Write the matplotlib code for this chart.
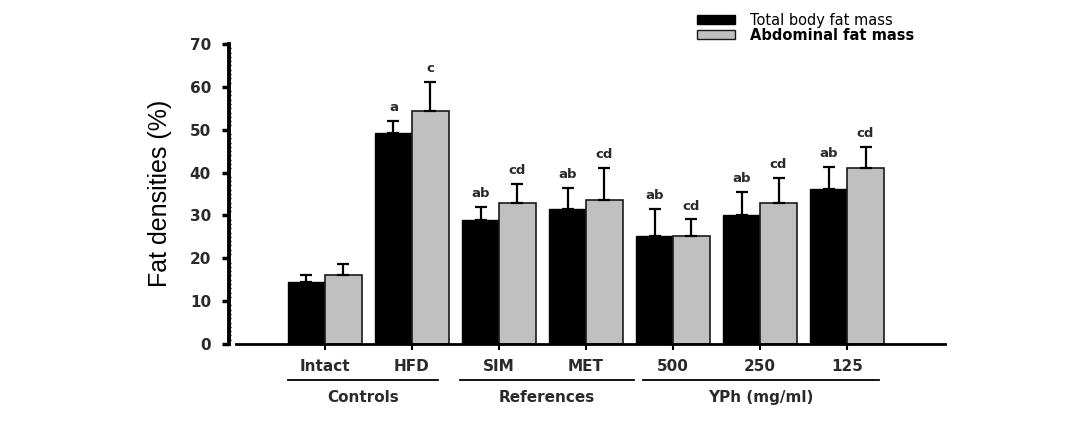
import matplotlib
matplotlib.use("Agg")
import matplotlib.pyplot as plt
from matplotlib.patches import Patch
import numpy as np

# groups and values
cats = ["Intact", "HFD", "SIM", "MET", "500", "250", "125"]
total_fat = [14.5, 49.3, 28.9, 31.5, 25.3, 30.2, 36.2]
total_err = [1.5, 2.8, 3.1, 5.0, 6.3, 5.3, 5.2]
abd_fat = [16.2, 54.4, 33.0, 33.7, 25.3, 33.0, 41.1]
abd_err = [2.5, 6.8, 4.4, 7.4, 3.8, 5.8, 4.9]
total_letters = ["", "a", "ab", "ab", "ab", "ab", "ab"]
abd_letters = ["", "c", "cd", "cd", "cd", "cd", "cd"]
groups = ["Controls", "References", "YPh (mg/ml)"]
group_spans = [(-0.43, 1.3), (1.55, 3.55), (3.65, 6.37)]

plt.rcParams["font.family"] = ["DejaVu Sans"]
txt_col = "#2a2a2a"

fig = plt.figure(figsize=(10.69, 4.22), dpi=100)
ax = fig.add_axes([229 / 1069, 1 - 344 / 422, (945 - 229) / 1069, 300 / 422])

x = np.arange(len(cats))
w = 0.425
ek = dict(lw=1.6, capsize=4.5, capthick=1.6, ecolor="black")
ax.bar(x - w / 2, total_fat, w, color="black", edgecolor="black", lw=1,
       yerr=[np.zeros(len(cats)), total_err], error_kw=ek, zorder=2)
ax.bar(x + w / 2, abd_fat, w, color="#c0c0c0", edgecolor="#1a1a1a", lw=1.2,
       yerr=[np.zeros(len(cats)), abd_err], error_kw=ek, zorder=2)

for i in range(len(cats)):
    if total_letters[i]:
        ax.text(x[i] - w / 2, total_fat[i] + total_err[i] + 1.5, total_letters[i],
                ha="center", va="bottom", fontsize=9.5, fontweight="bold", color=txt_col)
    if abd_letters[i]:
        ax.text(x[i] + w / 2, abd_fat[i] + abd_err[i] + 1.5, abd_letters[i],
                ha="center", va="bottom", fontsize=9.5, fontweight="bold", color=txt_col)

ax.set_xlim(-1.103, 7.126)
ax.set_ylim(0, 70)
ax.set_yticks(range(0, 71, 10))
ax.set_yticks(range(0, 71, 1), minor=True)
ax.set_xticks(x)
ax.set_xticklabels(cats, fontsize=11, fontweight="bold", color=txt_col)
ax.tick_params(axis="y", which="major", direction="out", length=5, width=2.5,
               labelsize=11, labelcolor=txt_col, pad=8)
ax.tick_params(axis="y", which="minor", direction="in", length=1.5, width=1)
ax.tick_params(axis="x", direction="out", length=4, width=1.5, pad=7)
for t in ax.get_yticklabels():
    t.set_fontweight("bold")

for s in ["top", "right"]:
    ax.spines[s].set_visible(False)
ax.spines["left"].set_linewidth(2.8)
ax.spines["bottom"].set_linewidth(2)
ax.spines["bottom"].set_bounds(-1.02, 7.126)

fig.text(160 / 1069, 1 - 193 / 422, "Fat densities (%)", rotation=90,
         ha="center", va="center", fontsize=18, family="Liberation Sans")

trans = ax.get_xaxis_transform()
for name, (a, b) in zip(groups, group_spans):
    ax.plot([a, b], [-0.12, -0.12], color="black", lw=1.3, transform=trans, clip_on=False)
    ax.text((a + b) / 2, -0.177, name, transform=trans, ha="center", va="center",
            fontsize=11, fontweight="bold", color=txt_col)

handles = [Patch(facecolor="black", edgecolor="black"),
           Patch(facecolor="#c0c0c0", edgecolor="#1a1a1a")]
leg = fig.legend(handles, ["Total body fat mass", "Abdominal fat mass"],
                 loc="upper left", bbox_to_anchor=(697 / 1069, 1 - 13 / 422),
                 frameon=False, prop={"family": "DejaVu Sans", "size": 10.5},
                 handlelength=2.6, handleheight=0.6, handletextpad=1.0,
                 labelspacing=0.0, borderpad=0, borderaxespad=0)
leg.get_texts()[1].set_fontweight("bold")

fig.savefig("out.png", dpi=100)
